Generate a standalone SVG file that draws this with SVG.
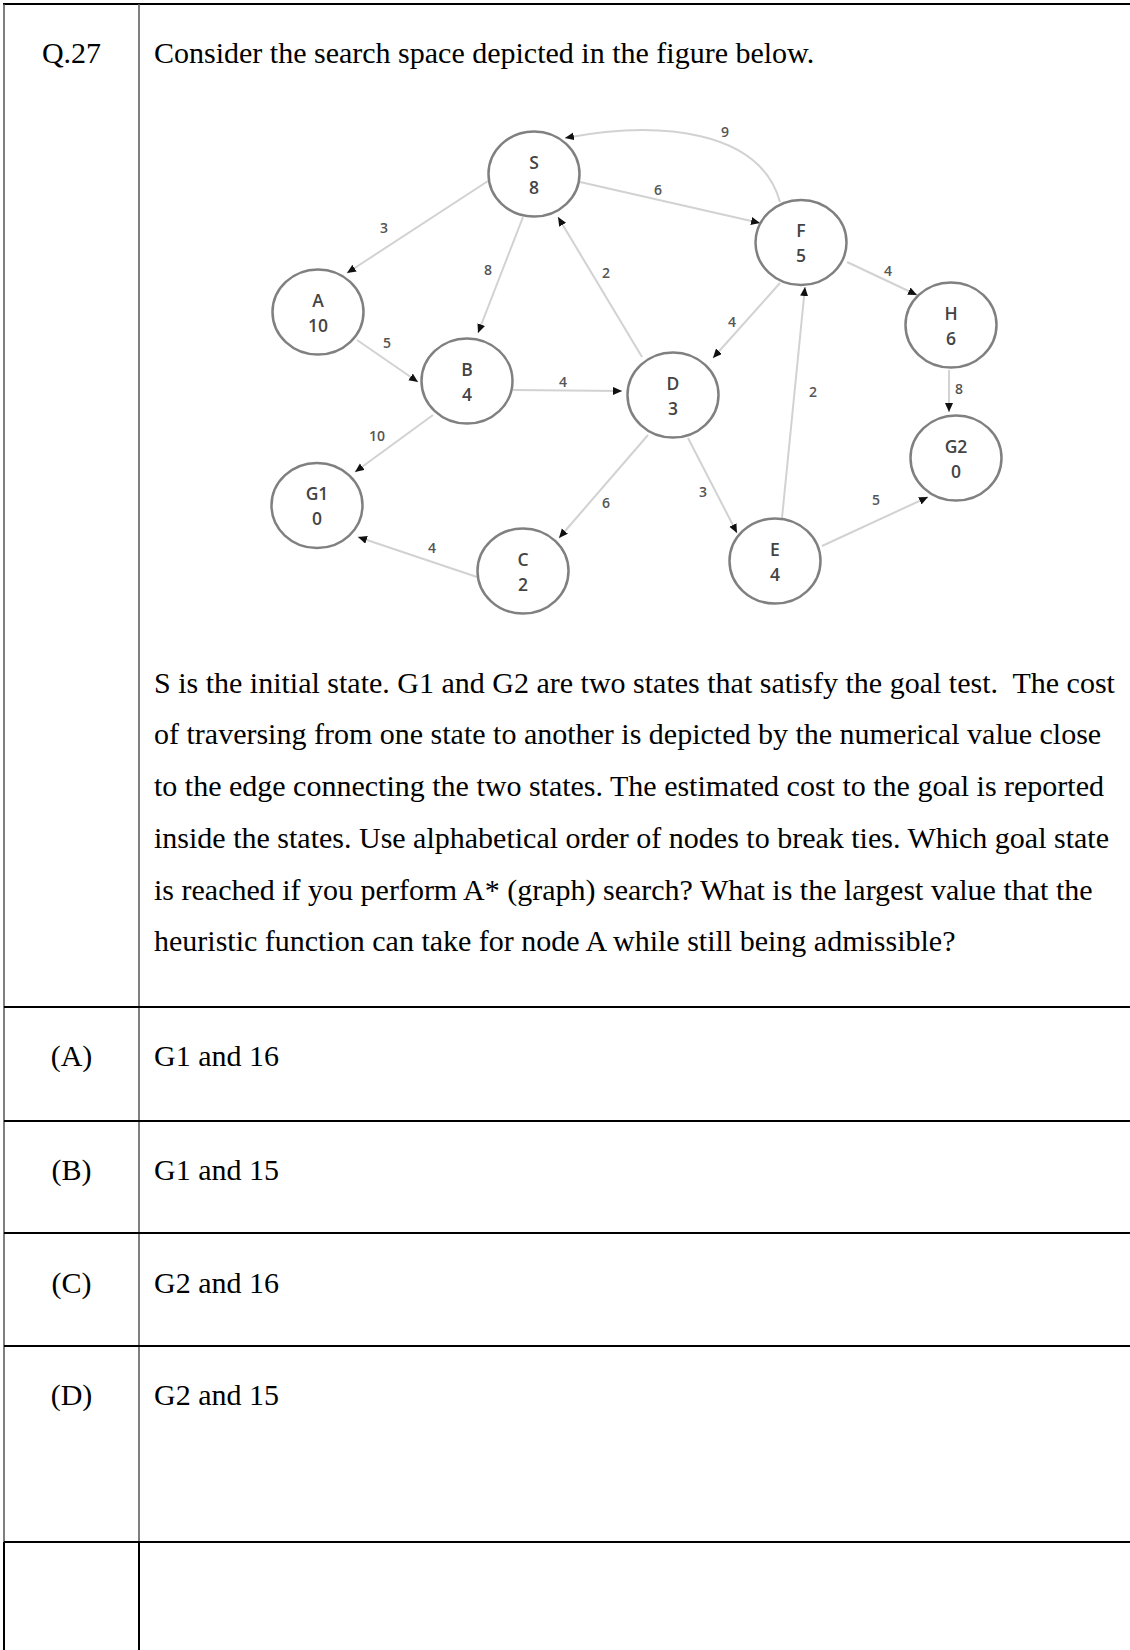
<svg xmlns="http://www.w3.org/2000/svg" width="1130" height="1650" viewBox="0 0 1130 1650">
<style>
.q{font-family:"Liberation Serif","Times New Roman",serif;font-size:30px;fill:#000}
.c{text-anchor:middle}
.nd ellipse{fill:#fff;stroke:#808080;stroke-width:2.5}
.nd text{font-family:"Open Sans","DejaVu Sans",sans-serif;font-size:17.5px;font-weight:600;fill:#444;text-anchor:middle}
.e{fill:none;stroke:#d2d2d2;stroke-width:2}
.lb{font-family:"Open Sans","DejaVu Sans",sans-serif;font-size:14px;font-weight:600;fill:#555;text-anchor:middle}
.hl{stroke:#000;stroke-width:2}
.vl{stroke:#555;stroke-width:1.5}
.vb{stroke:#000;stroke-width:2}
</style>
<defs>
<marker id="ah" markerUnits="userSpaceOnUse" markerWidth="10" markerHeight="9" refX="9" refY="4" orient="auto">
<path d="M0,0 L9,4 L0,8 z" fill="#111"/>
</marker>
</defs>
<rect x="0" y="0" width="1130" height="1650" fill="#fff"/>
<g id="table">
<line class="hl" x1="3" y1="4" x2="1130" y2="4"/>
<line class="vl" x1="4" y1="4" x2="4" y2="1542"/>
<line class="vl" x1="139" y1="4" x2="139" y2="1542"/>
<line class="vb" x1="4" y1="1542" x2="4" y2="1650"/>
<line class="vb" x1="139" y1="1542" x2="139" y2="1650"/>
<line class="hl" x1="4" y1="1007" x2="1130" y2="1007"/>
<line class="hl" x1="4" y1="1121" x2="1130" y2="1121"/>
<line class="hl" x1="4" y1="1233" x2="1130" y2="1233"/>
<line class="hl" x1="4" y1="1346" x2="1130" y2="1346"/>
<line class="hl" x1="4" y1="1542" x2="1130" y2="1542"/>
</g>
<g id="texts">
<text class="q c" x="71.5" y="63">Q.27</text>
<text class="q" x="154" y="63">Consider the search space depicted in the figure below.</text>
<text class="q" x="154" y="692.5" style="white-space:pre">S is the initial state. G1 and G2 are two states that satisfy the goal test.  The cost</text>
<text class="q" x="154" y="744">of traversing from one state to another is depicted by the numerical value close</text>
<text class="q" x="154" y="796">to the edge connecting the two states. The estimated cost to the goal is reported</text>
<text class="q" x="154" y="848">inside the states. Use alphabetical order of nodes to break ties. Which goal state</text>
<text class="q" x="154" y="899.5">is reached if you perform A* (graph) search? What is the largest value that the</text>
<text class="q" x="154" y="951">heuristic function can take for node A while still being admissible?</text>
<text class="q c" x="71.5" y="1066">(A)</text>
<text class="q" x="154" y="1066">G1 and 16</text>
<text class="q c" x="71.5" y="1180">(B)</text>
<text class="q" x="154" y="1180">G1 and 15</text>
<text class="q c" x="71.5" y="1293">(C)</text>
<text class="q" x="154" y="1293">G2 and 16</text>
<text class="q c" x="71.5" y="1405">(D)</text>
<text class="q" x="154" y="1405">G2 and 15</text>
</g>
<g id="connectors">
<path class="e" marker-end="url(#ah)" d="M488,181 L347,273"/>
<path class="e" marker-end="url(#ah)" d="M523,217 L478,333"/>
<path class="e" marker-end="url(#ah)" d="M642,357 L558,217"/>
<path class="e" marker-end="url(#ah)" d="M780,202 C760,130 660,120 565,138"/>
<path class="e" marker-end="url(#ah)" d="M580,182 L760,223"/>
<path class="e" marker-end="url(#ah)" d="M847,262 L917,295"/>
<path class="e" marker-end="url(#ah)" d="M780,283 L713,358"/>
<path class="e" marker-end="url(#ah)" d="M782,518 L805,287"/>
<path class="e" marker-end="url(#ah)" d="M357,340 L418,382"/>
<path class="e" marker-end="url(#ah)" d="M513,390 L622,391"/>
<path class="e" marker-end="url(#ah)" d="M433,415 L355,472"/>
<path class="e" marker-end="url(#ah)" d="M648,435 L559,538"/>
<path class="e" marker-end="url(#ah)" d="M477,577 L358,537"/>
<path class="e" marker-end="url(#ah)" d="M688,438 L737,533"/>
<path class="e" marker-end="url(#ah)" d="M822,546 L928,497"/>
<path class="e" marker-end="url(#ah)" d="M949,370 L949,412"/>
<text class="lb" x="384" y="233">3</text>
<text class="lb" x="488" y="275">8</text>
<text class="lb" x="606" y="278">2</text>
<text class="lb" x="725" y="137">9</text>
<text class="lb" x="658" y="195">6</text>
<text class="lb" x="888" y="276">4</text>
<text class="lb" x="732" y="327">4</text>
<text class="lb" x="813" y="397">2</text>
<text class="lb" x="387" y="348">5</text>
<text class="lb" x="563" y="387">4</text>
<text class="lb" x="377" y="441">10</text>
<text class="lb" x="606" y="508">6</text>
<text class="lb" x="432" y="553">4</text>
<text class="lb" x="703" y="497">3</text>
<text class="lb" x="876" y="505">5</text>
<text class="lb" x="959" y="394">8</text>
</g>
<g id="node-S" class="nd"><ellipse cx="534" cy="174" rx="45.5" ry="42.5"/><text x="534" y="168.5">S</text><text x="534" y="193.5">8</text></g>
<g id="node-A" class="nd"><ellipse cx="318" cy="312" rx="45.5" ry="42.5"/><text x="318" y="306.5">A</text><text x="318" y="331.5">10</text></g>
<g id="node-B" class="nd"><ellipse cx="467" cy="381" rx="45.5" ry="42.5"/><text x="467" y="375.5">B</text><text x="467" y="400.5">4</text></g>
<g id="node-G1" class="nd"><ellipse cx="317" cy="505.5" rx="45.5" ry="42.5"/><text x="317" y="500">G1</text><text x="317" y="525">0</text></g>
<g id="node-C" class="nd"><ellipse cx="523" cy="571" rx="45.5" ry="42.5"/><text x="523" y="565.5">C</text><text x="523" y="590.5">2</text></g>
<g id="node-D" class="nd"><ellipse cx="673" cy="395" rx="45.5" ry="42.5"/><text x="673" y="389.5">D</text><text x="673" y="414.5">3</text></g>
<g id="node-E" class="nd"><ellipse cx="775" cy="561" rx="45.5" ry="42.5"/><text x="775" y="555.5">E</text><text x="775" y="580.5">4</text></g>
<g id="node-F" class="nd"><ellipse cx="801" cy="242.5" rx="45.5" ry="42.5"/><text x="801" y="237">F</text><text x="801" y="262">5</text></g>
<g id="node-H" class="nd"><ellipse cx="951" cy="325" rx="45.5" ry="42.5"/><text x="951" y="319.5">H</text><text x="951" y="344.5">6</text></g>
<g id="node-G2" class="nd"><ellipse cx="956" cy="458" rx="45.5" ry="42.5"/><text x="956" y="452.5">G2</text><text x="956" y="477.5">0</text></g>
</svg>
